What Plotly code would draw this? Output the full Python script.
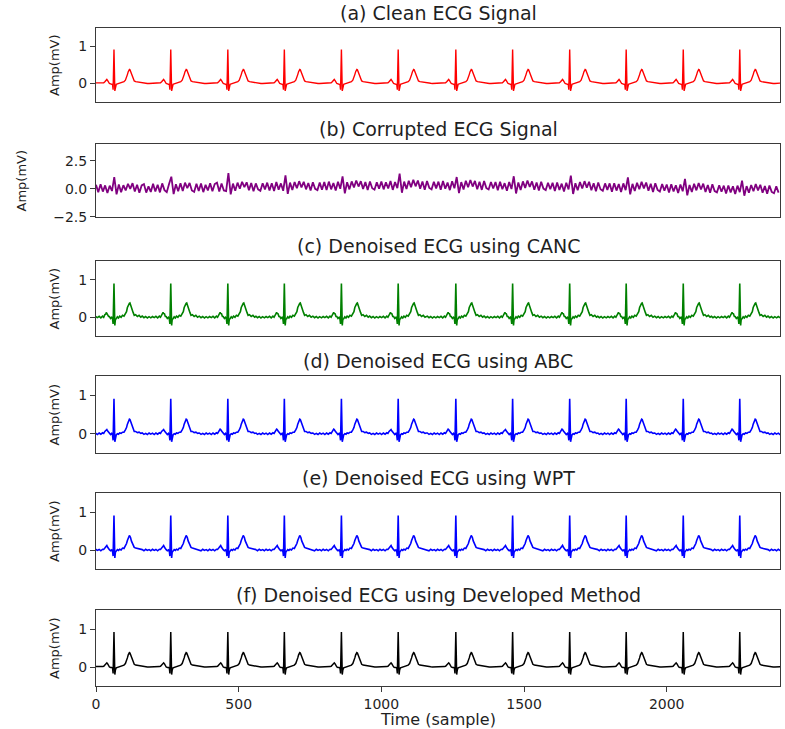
import numpy as np
import plotly.graph_objects as go

# ---------------- data ----------------
# R-peak sample positions of each heartbeat (last one continues the trace past the right edge)
beat_positions = [63, 262, 462, 660, 860, 1059, 1261, 1460, 1660, 1858, 2058, 2256, 2455]

# one heartbeat, sample offsets relative to the R peak
beat_offsets = [-100, -94, -88, -82, -76, -70, -64, -58, -52, -46,
                -40, -36, -32, -29, -27, -25, -22, -19, -16, -12,
                -8, -5, -3, 0, 3, 5, 8, 12, 16, 20,
                25, 30, 35, 40, 44, 47, 50, 52, 54, 56,
                58, 61, 64, 67, 71, 76, 82, 88, 94, 99]

clean_beat = [0.01, 0.01, 0.005, 0.0, 0.0, 0.0, 0.0, 0.0, 0.0, 0.0,
              0.01, 0.02, 0.05, 0.09, 0.11, 0.11, 0.08, 0.03, 0.0, -0.01,
              -0.01, -0.03, -0.17, 0.92, -0.20, -0.08, -0.02, -0.01, 0.0, 0.01,
              0.02, 0.03, 0.05, 0.09, 0.16, 0.24, 0.32, 0.36, 0.38, 0.37,
              0.33, 0.25, 0.17, 0.11, 0.07, 0.05, 0.04, 0.03, 0.02, 0.015]

canc_beat = [0.03, -0.01, 0.02, -0.02, 0.015, -0.015, 0.02, -0.01, 0.025, -0.015,
             0.03, 0.0, 0.07, 0.08, 0.13, 0.10, 0.09, 0.02, 0.02, -0.03,
             0.0, -0.05, -0.18, 0.90, -0.22, -0.06, -0.04, 0.01, -0.02, 0.03,
             0.0, 0.05, 0.03, 0.11, 0.15, 0.26, 0.31, 0.37, 0.37, 0.38,
             0.32, 0.26, 0.15, 0.13, 0.05, 0.07, 0.02, 0.05, 0.0, 0.03]

abc_beat = [0.02, -0.015, 0.01, -0.02, 0.02, -0.01, 0.015, -0.02, 0.02, -0.01,
            0.025, 0.01, 0.06, 0.09, 0.12, 0.11, 0.07, 0.04, 0.0, -0.02,
            0.01, -0.04, -0.17, 0.91, -0.21, -0.07, -0.03, 0.0, -0.015, 0.02,
            0.01, 0.04, 0.04, 0.10, 0.16, 0.25, 0.32, 0.36, 0.38, 0.37,
            0.33, 0.25, 0.16, 0.12, 0.06, 0.06, 0.03, 0.04, 0.01, 0.02]

wpt_beat = [0.01, -0.02, 0.02, -0.01, 0.01, -0.02, 0.02, -0.01, 0.015, -0.02,
            0.02, 0.015, 0.05, 0.10, 0.11, 0.12, 0.07, 0.03, 0.01, -0.02,
            0.0, -0.04, -0.16, 0.91, -0.21, -0.06, -0.03, 0.01, -0.01, 0.02,
            0.0, 0.05, 0.04, 0.10, 0.17, 0.25, 0.33, 0.36, 0.38, 0.36,
            0.33, 0.24, 0.17, 0.11, 0.07, 0.05, 0.04, 0.03, 0.02, 0.01]

developed_beat = [0.01, 0.01, 0.005, 0.0, 0.0, 0.0, 0.0, 0.0, 0.0, 0.0,
                  0.01, 0.02, 0.05, 0.09, 0.11, 0.11, 0.08, 0.03, 0.0, -0.01,
                  -0.01, -0.03, -0.17, 0.92, -0.20, -0.08, -0.02, -0.01, 0.0, 0.01,
                  0.02, 0.03, 0.05, 0.09, 0.16, 0.24, 0.32, 0.36, 0.38, 0.37,
                  0.33, 0.25, 0.17, 0.11, 0.07, 0.05, 0.04, 0.03, 0.02, 0.015]

# corrupted signal, read every 8 samples (one row = one beat period)
corrupted_step = 8
corrupted = [
    0.35, -0.30, 0.40, -0.25, 0.30, -0.38, 0.28, -0.20, 1.05, -0.50, 0.38, -0.30, 0.32, -0.15, 0.45, 0.00, 0.50, -0.25, 0.36, -0.35, 0.30, 0.42, -0.34, 0.22, -0.28,
    0.45, -0.25, 0.36, -0.32, 0.48, -0.12, -0.30, 0.42, 1.08, -0.48, 0.40, -0.22, 0.50, -0.20, 0.55, 0.05, 0.52, -0.15, -0.28, 0.45, -0.20, 0.48, -0.30, 0.35, -0.15,
    0.50, -0.22, 0.42, 0.55, -0.25, 0.48, -0.15, -0.20, 1.40, -0.50, 0.46, -0.18, 0.55, 0.00, 0.62, 0.15, 0.58, -0.12, 0.52, -0.22, 0.48, -0.05, -0.18, 0.50, -0.05,
    0.55, -0.15, 0.50, -0.20, 0.60, -0.08, 0.48, -0.18, 1.20, -0.45, 0.55, -0.10, 0.60, 0.05, 0.68, 0.12, 0.62, -0.05, 0.52, -0.15, 0.58, 0.00, -0.12, 0.55, -0.08,
    0.60, -0.10, 0.64, -0.05, 0.52, -0.15, 0.62, 0.00, 1.10, -0.40, 0.58, -0.05, 0.66, 0.12, 0.74, 0.20, 0.68, -0.02, 0.60, -0.12, 0.65, 0.05, -0.08, 0.58, 0.00,
    0.66, -0.05, 0.58, 0.02, 0.70, -0.10, 0.60, 0.05, 1.35, -0.35, 0.64, -0.02, 0.72, 0.15, 0.80, 0.22, 0.74, 0.00, 0.65, -0.08, 0.70, 0.08, -0.05, 0.62, 0.04,
    0.64, -0.08, 0.70, 0.00, 0.55, -0.12, 0.68, 0.04, 1.05, -0.38, 0.60, -0.06, 0.72, 0.14, 0.78, 0.20, 0.70, -0.04, 0.62, -0.10, 0.70, 0.06, -0.06, 0.60, 0.02,
    0.60, -0.14, 0.62, -0.04, 0.50, -0.18, 0.60, -0.02, 1.12, -0.42, 0.56, -0.10, 0.66, 0.08, 0.74, 0.16, 0.66, -0.08, 0.56, -0.16, 0.62, 0.02, -0.12, 0.54, -0.04,
    0.54, -0.20, 0.56, -0.10, 0.46, -0.24, 0.54, -0.06, 1.18, -0.46, 0.50, -0.14, 0.60, 0.02, 0.68, 0.10, 0.62, -0.14, 0.50, -0.22, 0.56, -0.04, -0.18, 0.48, -0.10,
    0.48, -0.26, 0.50, -0.16, 0.42, -0.28, 0.48, -0.12, 1.02, -0.50, 0.44, -0.20, 0.54, -0.04, 0.62, 0.04, 0.56, -0.18, 0.44, -0.28, 0.50, -0.10, -0.24, 0.42, -0.16,
    0.38, -0.34, 0.40, -0.24, 0.32, -0.38, 0.38, -0.22, 0.88, -0.58, 0.34, -0.28, 0.44, -0.14, 0.52, -0.06, 0.46, -0.28, 0.34, -0.36, 0.40, -0.20, -0.32, 0.32, -0.26,
    0.28, -0.42, 0.30, -0.32, 0.22, -0.46, 0.28, -0.30, 0.72, -0.62, 0.24, -0.36, 0.34, -0.22, 0.42, -0.14, 0.36, -0.36, 0.24, -0.44, 0.30, -0.28, -0.40, 0.22, -0.34,
]

titles = ["(a) Clean ECG Signal", "(b) Corrupted ECG Signal", "(c) Denoised ECG using CANC",
          "(d) Denoised ECG using ABC", "(e) Denoised ECG using WPT",
          "(f) Denoised ECG using Developed Method"]
x_ticks = [0, 500, 1000, 1500, 2000]
x_tick_labels = ["0", "500", "1000", "1500", "2000"]
ecg_y_ticks = [0, 1]
ecg_y_tick_labels = ["0", "1"]
noisy_y_ticks = [-2.5, 0.0, 2.5]
noisy_y_tick_labels = ["\u22122.5", "0.0", "2.5"]
x_label = "Time (sample)"
y_label = "Amp(mV)"


def beat_train(beat_vals):
    xs, ys = [], []
    for r in beat_positions:
        xs.extend(r + o for o in beat_offsets)
        ys.extend(beat_vals)
    return np.array(xs), np.array(ys)


corr_x = np.arange(len(corrupted)) * corrupted_step
series = [
    (*beat_train(clean_beat), "#ff0000", 1.4),
    (corr_x, np.array(corrupted), "#800080", 1.8),
    (*beat_train(canc_beat), "#008000", 1.6),
    (*beat_train(abc_beat), "#0000ff", 1.6),
    (*beat_train(wpt_beat), "#0000ff", 1.6),
    (*beat_train(developed_beat), "#000000", 1.5),
]

# ---------------- layout geometry (page pixels) ----------------
W, H = 785, 729
plot_left, plot_right, plot_top, plot_bottom = 96, 780, 28, 686
ml, mr = plot_left, W - plot_right
mt, mb = plot_top, H - plot_bottom
plot_w = plot_right - plot_left
plot_h = plot_bottom - plot_top
panel_px = [(28, 102), (144, 217), (261, 336), (376, 453), (493, 569), (610, 686)]


def dom(top, bot):
    return [(plot_bottom - bot) / plot_h, (plot_bottom - top) / plot_h]


fig = go.Figure()
annotations = []
axis_color = "#3a3a3a"
text_color = "#1f1f1f"
layout = {}

for i, ((xs, ys, color, lw), title, (tp, bp)) in enumerate(zip(series, titles, panel_px)):
    n = i + 1
    xa = "x" if n == 1 else f"x{n}"
    ya = "y" if n == 1 else f"y{n}"
    fig.add_trace(go.Scatter(x=xs, y=ys, mode="lines", line=dict(color=color, width=lw),
                             xaxis=xa, yaxis=ya, showlegend=False, hoverinfo="skip"))
    d = dom(tp, bp)
    last = n == 6
    layout[f"xaxis{'' if n == 1 else n}"] = dict(
        domain=[0, 1], anchor=ya, range=[0, 2397], showgrid=False, zeroline=False,
        showline=True, mirror=True, linecolor=axis_color, linewidth=1,
        tickvals=x_ticks, ticktext=x_tick_labels, showticklabels=last,
        ticks="outside" if last else "", ticklen=5, tickcolor=axis_color,
        tickfont=dict(family="DejaVu Sans", size=14, color=text_color),
    )
    if n == 2:
        yr, tv, tt = [-2.52, 4.0], noisy_y_ticks, noisy_y_tick_labels
    else:
        yr, tv, tt = [-0.5, 1.5], ecg_y_ticks, ecg_y_tick_labels
    layout[f"yaxis{'' if n == 1 else n}"] = dict(
        domain=d, anchor=xa, range=yr, showgrid=False, zeroline=False,
        showline=True, mirror=True, linecolor=axis_color, linewidth=1,
        tickvals=tv, ticktext=tt, ticks="outside", ticklen=5, tickcolor=axis_color,
        tickfont=dict(family="DejaVu Sans", size=14, color=text_color),
    )
    annotations.append(dict(text=title, xref="paper", yref="paper", x=0.5, y=d[1],
                            xanchor="center", yanchor="bottom", yshift=2, showarrow=False,
                            font=dict(family="DejaVu Sans", size=19, color=text_color)))
    lab_px = 21 if n == 2 else 54
    annotations.append(dict(text=y_label, xref="paper", yref="paper",
                            x=(lab_px - plot_left) / plot_w, y=(d[0] + d[1]) / 2,
                            xanchor="center", yanchor="middle", textangle=-90, showarrow=False,
                            font=dict(family="DejaVu Sans", size=13, color=text_color)))

annotations.append(dict(text=x_label, xref="paper", yref="paper", x=0.5, y=0,
                        xanchor="center", yanchor="middle", yshift=-33, showarrow=False,
                        font=dict(family="DejaVu Sans", size=16, color=text_color)))

fig.update_layout(
    width=W, height=H, margin=dict(l=ml, r=mr, t=mt, b=mb),
    paper_bgcolor="white", plot_bgcolor="white",
    annotations=annotations, **layout,
)

# remove the browser's default page margin so the figure sits at the window's top-left corner
fig.write_html("out.html", config={"displayModeBar": False},
               post_script="document.body.style.margin='0';document.body.style.overflow='hidden';")
